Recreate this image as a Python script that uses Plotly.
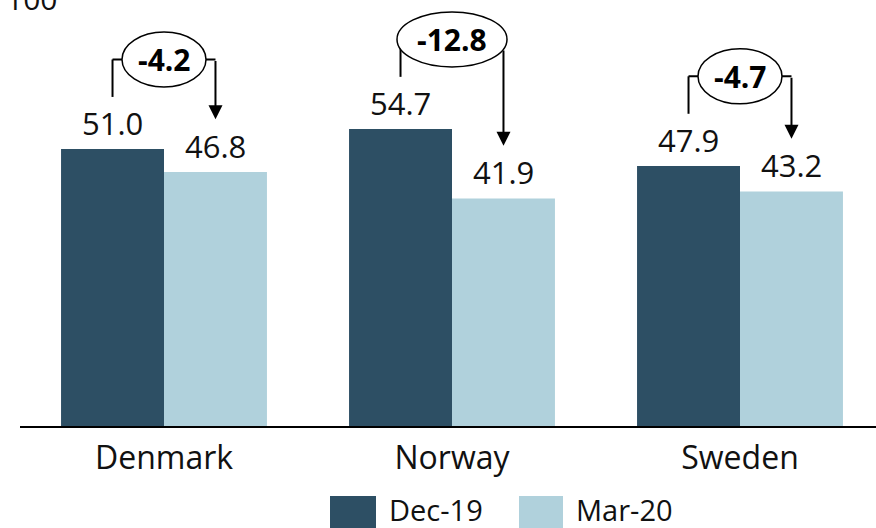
import plotly.graph_objects as go

categories = ["Denmark", "Norway", "Sweden"]
dec19 = [51.0, 54.7, 47.9]
mar20 = [46.8, 41.9, 43.2]
series_names = ["Dec-19", "Mar-20"]
top_label = "100"

DARK = "#2D4F64"
LIGHT = "#B0D1DC"
FONT = "Open Sans"

xs = list(range(len(categories)))
BARGAP = 0.285
HALF = (1 - BARGAP) / 4  # offset of each bar center from category center

fig = go.Figure()
fig.add_trace(go.Bar(x=xs, y=dec19, name=series_names[0], marker_color=DARK,
                     marker_line_width=0, showlegend=False))
fig.add_trace(go.Bar(x=xs, y=mar20, name=series_names[1], marker_color=LIGHT,
                     marker_line_width=0, showlegend=False))

shapes = []
annotations = []

PX_X = 288.0   # pixels per category unit
PX_Y = 5.43    # pixels per value unit
ry = 27.5 / PX_Y

for i, (d, m) in enumerate(zip(dec19, mar20)):
    xd = i - HALF
    xm = i + HALF
    # value labels
    for xv, v in ((xd, d), (xm, m)):
        annotations.append(dict(x=xv, y=v, xref="x", yref="y", text=f"{v:.1f}",
                                showarrow=False, yanchor="bottom", yshift=3,
                                font=dict(family=FONT, size=31, color="#111")))
    diff = m - d
    label = f"{diff:.1f}"
    by = d + 16.5
    rx = (13 * len(label) - 10) / PX_X
    # left vertical + horizontal connector
    shapes.append(dict(type="line", xref="x", yref="y", x0=xd, x1=xd, y0=d + 9.6, y1=by,
                       line=dict(color="black", width=2)))
    shapes.append(dict(type="line", xref="x", yref="y", x0=xd, x1=xm, y0=by, y1=by,
                       line=dict(color="black", width=2)))
    # ellipse
    shapes.append(dict(type="circle", xref="x", yref="y", x0=i - rx, x1=i + rx,
                       y0=by - ry, y1=by + ry, fillcolor="white",
                       line=dict(color="black", width=1.5), layer="above"))
    # arrow start at ellipse boundary if inside
    dx = (xm - i) / rx
    start = by
    if abs(dx) < 1:
        start = by - ry * (1 - dx * dx) ** 0.5
    annotations.append(dict(x=xm, y=m + 9.7, ax=xm, ay=start, xref="x", yref="y",
                            axref="x", ayref="y", text="", showarrow=True,
                            arrowhead=2, arrowsize=1.4, arrowwidth=2, arrowcolor="black"))
    annotations.append(dict(x=i, y=by, xref="x", yref="y", text=f"<b>{label}</b>",
                            showarrow=False,
                            font=dict(family=FONT, size=30, color="black")))

# top-left label (cut off in the original)
annotations.append(dict(x=-16 / 856, y=1.0035, xref="paper", yref="paper", text=top_label,
                        showarrow=False, xanchor="left", yanchor="middle",
                        font=dict(family=FONT, size=30, color="#111")))

# custom legend
leg = [(series_names[0], DARK, 330, 376, 387), (series_names[1], LIGHT, 519, 563, 574)]
for name, col, x0, x1, xt in leg:
    shapes.append(dict(type="rect", xref="paper", yref="paper",
                       x0=(x0 - 20) / 856, x1=(x1 - 20) / 856,
                       y0=(426 - 542) / 426, y1=(426 - 496) / 426,
                       fillcolor=col, line=dict(width=0)))
    annotations.append(dict(x=(xt - 20) / 856, y=(426 - 509) / 426, xref="paper", yref="paper",
                            text=name, showarrow=False, xanchor="left", yanchor="middle",
                            font=dict(family=FONT, size=29, color="#111")))

fig.update_layout(
    width=876, height=528,
    margin=dict(l=20, r=0, t=0, b=102),
    plot_bgcolor="white", paper_bgcolor="white",
    barmode="group", bargap=BARGAP, bargroupgap=0,
    shapes=shapes, annotations=annotations,
    showlegend=False,
    xaxis=dict(range=[-0.5, (876 - 164) / PX_X], tickvals=xs, ticktext=categories,
               showline=True, linecolor="black", linewidth=2, ticks="",
               showgrid=False, zeroline=False,
               tickfont=dict(family=FONT, size=32, color="#111"), ticklabelstandoff=3),
    yaxis=dict(range=[0, 426 / PX_Y], visible=False, showgrid=False, zeroline=False),
)

fig.write_html("out.html")
